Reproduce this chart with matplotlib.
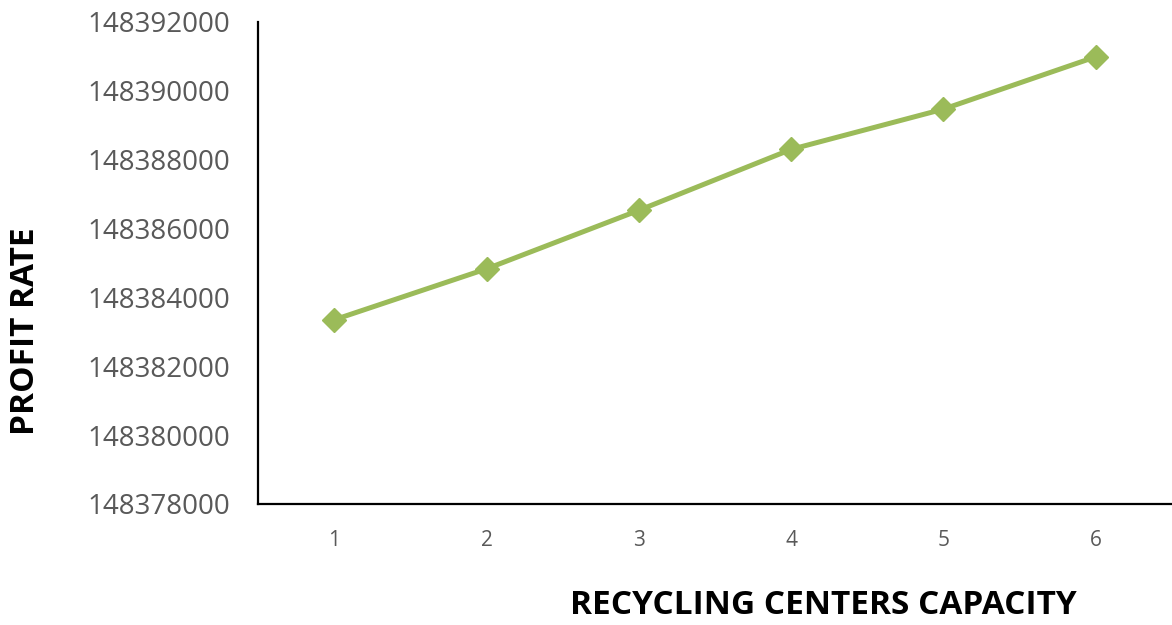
import matplotlib
matplotlib.use("Agg")
import matplotlib.pyplot as plt

capacity = [1, 2, 3, 4, 5, 6]
profit = [148383350, 148384830, 148386530, 148388300, 148389470, 148390990]
yticks = [148378000, 148380000, 148382000, 148384000, 148386000, 148388000, 148390000, 148392000]

plt.rcParams['font.family'] = ['Open Sans', 'DejaVu Sans']

fig = plt.figure(figsize=(11.72, 6.25), dpi=100)
ax = fig.add_axes([258 / 1172, 1 - 504 / 625, 1 - 258 / 1172, (504 - 22) / 625])

ax.plot(capacity, profit, color='#9BBB59', lw=3.6, marker='D', ms=12, mec='#9BBB59')

ax.set_xlim(0.5, 6.5)
ax.set_ylim(yticks[0], yticks[-1])
ax.set_xticks(capacity)
ax.set_yticks(yticks)
ax.set_yticklabels([str(v) for v in yticks])
ax.tick_params(axis='y', length=0, pad=20, labelsize=20, labelcolor='#595959')
ax.tick_params(axis='x', length=0, pad=19, labelsize=15, labelcolor='#595959')

for s in ['top', 'right']:
    ax.spines[s].set_visible(False)
for s in ['left', 'bottom']:
    ax.spines[s].set_linewidth(1.6)
    ax.spines[s].set_color('black')

fig.text(823 / 1172, 1 - 605 / 625, 'RECYCLING CENTERS CAPACITY', ha='center', va='center',
         fontsize=24, fontweight='bold')
fig.text(25 / 1172, 1 - 331 / 625, 'PROFIT RATE', ha='center', va='center', rotation=90,
         fontsize=24, fontweight='bold')

fig.savefig('out.png', dpi=100)
